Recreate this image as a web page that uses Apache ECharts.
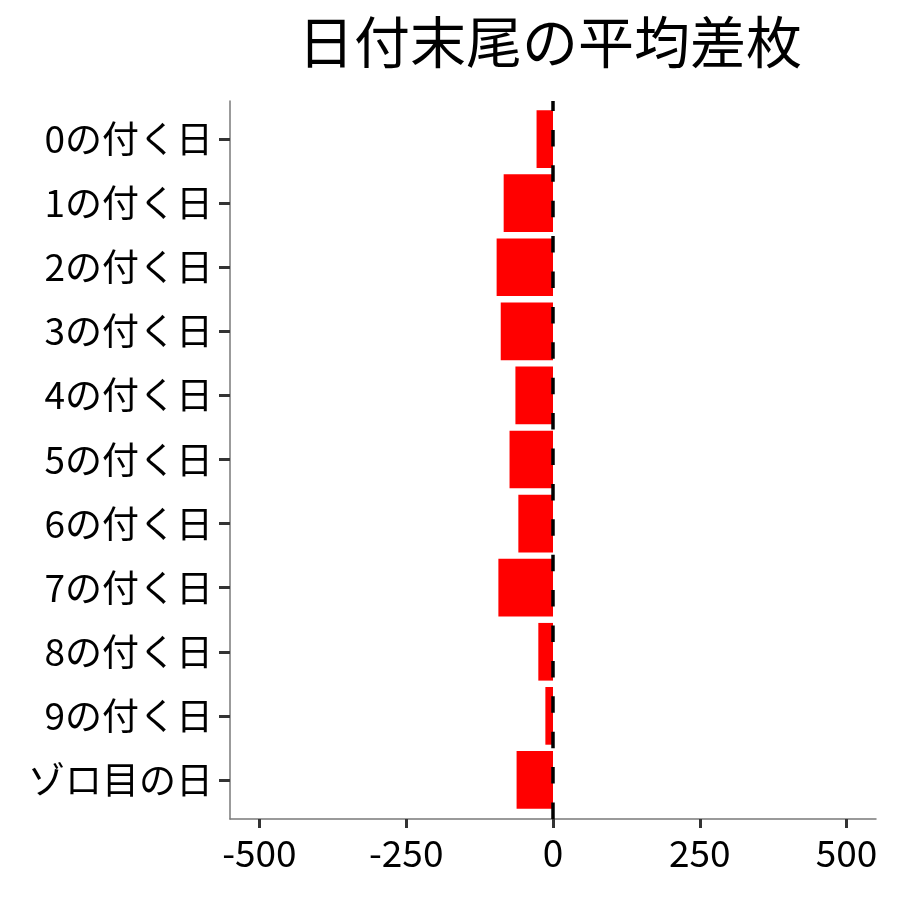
<!DOCTYPE html>
<html>
<head>
<meta charset="utf-8">
<script src="https://cdn.jsdelivr.net/npm/echarts@6/dist/echarts.min.js"></script>
<style>html,body{margin:0;padding:0;background:#fff;}#c{width:900px;height:900px;}</style>
</head>
<body>
<div id="c"></div>
<script>
const categories = ['0の付く日','1の付く日','2の付く日','3の付く日','4の付く日','5の付く日','6の付く日','7の付く日','8の付く日','9の付く日','ゾロ目の日'];
const avgDiff = [-28, -84, -96, -89, -64, -74, -59, -93, -25, -13, -62];
const xTickMin = -500, xTickMax = 500, xTickStep = 250;
const zeroLine = [[0, 0], [0, 1]];
const titleText = '日付末尾の平均差枚';

const FONT = 'Noto Sans CJK JP';
const chart = echarts.init(document.getElementById('c'), null, {renderer: 'canvas'});
chart.setOption({
  animation: false,
  backgroundColor: '#ffffff',
  textStyle: {fontFamily: FONT},
  title: {
    text: titleText,
    left: 545, top: 9, textAlign: 'center',
    textStyle: {fontFamily: FONT, fontSize: 56, fontWeight: 'normal', color: '#000'}
  },
  grid: [
    {left: 230, right: 24, top: 107, bottom: 88},
    {left: 230, right: 24, top: 101, bottom: 81},
    {left: 259.4, right: 53.4, top: 101, bottom: 81}
  ],
  xAxis: [
    {gridIndex: 0, type: 'value', min: -550, max: 550, show: false, splitLine: {show: false}},
    {gridIndex: 1, type: 'value', min: -550, max: 550,
     axisLine: {show: true, onZero: false, lineStyle: {color: '#7a7a7a', width: 1.5}},
     axisTick: {show: false}, axisLabel: {show: false}, splitLine: {show: false}},
    {gridIndex: 2, type: 'value', min: xTickMin, max: xTickMax, interval: xTickStep,
     axisLine: {show: true, onZero: false, lineStyle: {color: 'rgba(0,0,0,0)', width: 1}},
     axisTick: {show: true, length: 9, lineStyle: {color: '#333', width: 3}},
     axisLabel: {show: true, fontSize: 37, color: '#000', margin: 15, fontFamily: FONT},
     splitLine: {show: false}}
  ],
  yAxis: [
    {gridIndex: 0, type: 'category', data: categories, inverse: true,
     axisLine: {show: true, onZero: false, lineStyle: {color: 'rgba(0,0,0,0)'}},
     axisTick: {show: true, alignWithLabel: true, length: 11, lineStyle: {color: '#333', width: 3}},
     axisLabel: {fontSize: 37, color: '#000', margin: 17, fontFamily: FONT},
     splitLine: {show: false}},
    {gridIndex: 1, type: 'value', min: 0, max: 1,
     axisLine: {show: true, onZero: false, lineStyle: {color: '#7a7a7a', width: 1.5}},
     axisTick: {show: false}, axisLabel: {show: false}, splitLine: {show: false}},
    {gridIndex: 2, type: 'value', min: 0, max: 1, show: false}
  ],
  series: [
    {type: 'bar', xAxisIndex: 0, yAxisIndex: 0, data: avgDiff,
     barCategoryGap: '10%', itemStyle: {color: '#ff0000'}, z: 2},
    {type: 'line', xAxisIndex: 1, yAxisIndex: 1, data: zeroLine,
     showSymbol: false, symbol: 'none', z: 5,
     lineStyle: {color: '#000', width: 3.5, type: [16.5, 18.9]}}
  ]
});
</script>
</body>
</html>
